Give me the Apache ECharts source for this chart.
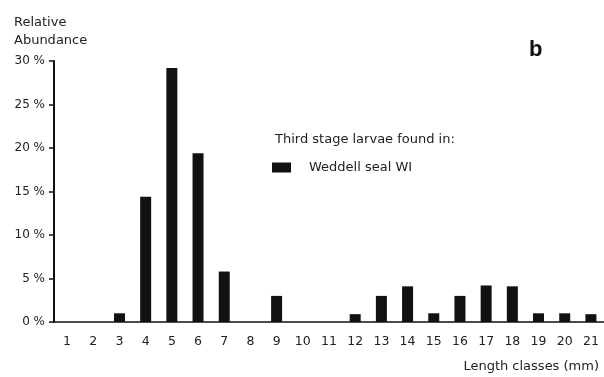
<!DOCTYPE html>
<html><head><meta charset="utf-8">
<script src="https://cdn.jsdelivr.net/npm/echarts@6/dist/echarts.min.js"></script>
<style>html,body{margin:0;padding:0;background:#fff}#c{width:604px;height:377px}</style>
</head><body><div id="c"></div>
<script>
const categories = ['1','2','3','4','5','6','7','8','9','10','11','12','13','14','15','16','17','18','19','20','21'];
const weddellSeal = [0,0,1,14.4,29.2,19.4,5.8,0,3,0,0,0.9,3,4.1,1,3,4.2,4.1,1,1,0.9];
const yTicks = [0,5,10,15,20,25,30];
const F = '"DejaVu Sans", sans-serif';
const chart = echarts.init(document.getElementById('c'));
chart.setOption({
  animation:false,
  grid:{left:54,right:0,top:61,bottom:55},
  legend:{left:272,top:161,padding:0,icon:'rect',itemWidth:19,itemHeight:10,itemGap:10,
    textStyle:{fontFamily:F,fontSize:13,color:'#222',padding:[0,0,0,13]},data:['Weddell seal WI']},
  xAxis:{type:'category',data:categories,
    axisLine:{lineStyle:{color:'#111',width:1.5}},
    axisTick:{alignWithLabel:true,length:4,lineStyle:{color:'#111',width:1.5}},
    axisLabel:{fontFamily:F,fontSize:12.5,color:'#222',margin:13,interval:0}},
  yAxis:{type:'value',min:0,max:30,interval:5,
    splitLine:{show:false},
    axisLine:{show:true,lineStyle:{color:'#111',width:2}},
    axisTick:{show:true,length:5,lineStyle:{color:'#111',width:1.5}},
    axisLabel:{fontFamily:F,fontSize:12,color:'#222',margin:9,formatter:v=>yTicks.includes(v)?v+' %':''}},
  series:[{name:'Weddell seal WI',type:'bar',data:weddellSeal,barWidth:11,itemStyle:{color:'#111'}}],
  graphic:[
    {type:'text',left:14,top:14,style:{text:'Relative\nAbundance',fontFamily:F,fontSize:13,lineHeight:18,fill:'#222'}},
    {type:'text',left:529,top:39,style:{text:'b',fontFamily:'"Liberation Sans", sans-serif',fontSize:22,fontWeight:'bold',fill:'#111'}},
    {type:'text',left:275,top:133,style:{text:'Third stage larvae found in:',fontFamily:F,fontSize:13,fill:'#222'}},
    {type:'text',right:5,top:360,style:{text:'Length classes (mm)',fontFamily:F,fontSize:13,fill:'#222'}}
  ]
});
</script></body></html>
